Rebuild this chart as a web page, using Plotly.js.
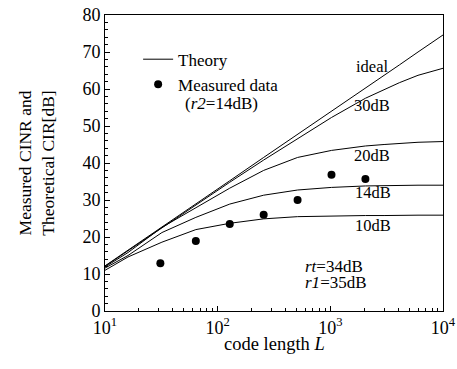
<!DOCTYPE html>
<html>
<head>
<meta charset="utf-8">
<script src="https://cdn.plot.ly/plotly-3.0.1.min.js"></script>
<style>html,body{margin:0;padding:0;background:#fff;}#chart{width:457px;height:369px;}</style>
</head>
<body>
<div id="chart"></div>
<script>
// code length L for theory curves
var codeLength = [10, 16, 32, 64, 128, 256, 512, 1024, 2048, 3000, 4096, 6000, 10000];
var ideal = [12.2, 16.4, 22.7, 29.0, 35.2, 41.5, 47.7, 54.0, 60.3, 63.7, 66.5, 70.0, 74.6];
var r30dB = [12.1, 16.3, 22.6, 28.8, 34.8, 40.8, 46.5, 52.3, 57.5, 59.9, 61.7, 63.7, 65.6];
var r20dB = [11.9, 15.8, 22.6, 28.0, 33.2, 38.0, 41.5, 43.4, 44.6, 45.0, 45.3, 45.6, 45.8];
var r14dB = [11.6, 15.0, 21.2, 25.3, 28.9, 31.3, 32.7, 33.4, 33.8, 33.9, 33.9, 34.0, 34.0];
var r10dB = [11.0, 14.6, 18.6, 22.0, 23.7, 24.9, 25.5, 25.7, 25.8, 25.8, 25.9, 25.9, 25.9];
// measured data
var measL = [31, 64, 128, 256, 512, 1024, 2048];
var measCINR = [12.9, 18.9, 23.5, 26.0, 30.0, 36.8, 35.7];
// tick labels
var xTickVals = [10, 100, 1000, 10000];
var xTickText = ['10<sup>1</sup>', '10<sup>2</sup>', '10<sup>3</sup>', '10<sup>4</sup>'];
var curveLabels = ['ideal', '30dB', '20dB', '14dB', '10dB'];

var serif = 'Liberation Serif, Times New Roman, serif';
var lineStyle = {color: '#000', width: 1};
var curves = [ideal, r30dB, r20dB, r14dB, r10dB];
var traces = curves.map(function (ys, i) {
  return {
    x: codeLength, y: ys, mode: 'lines', line: lineStyle,
    name: 'Theory', showlegend: i === 0, hoverinfo: 'skip'
  };
});
traces.push({
  x: measL, y: measCINR, mode: 'markers',
  marker: {color: '#000', size: 8, symbol: 'circle'},
  name: 'Measured data'
});

var labelPos = [[2350, 66.0], [2350, 55.5], [2350, 41.9], [2400, 32.0], [2400, 23.2]];
var annotations = curveLabels.map(function (t, i) {
  return {x: Math.log10(labelPos[i][0]), y: labelPos[i][1], xref: 'x', yref: 'y',
    text: t, showarrow: false, font: {family: serif, size: 16.5, color: '#000'}};
});
annotations.push({x: 0.585, y: 0.113, xref: 'paper', yref: 'paper', xanchor: 'left',
  text: '<i>rt</i>=34dB', showarrow: false, font: {family: serif, size: 17, color: '#000'}});
annotations.push({x: 0.585, y: 0.057, xref: 'paper', yref: 'paper', xanchor: 'left',
  text: '<i>r1</i>=35dB', showarrow: false, font: {family: serif, size: 17, color: '#000'}});
// second line of the legend entry for measured data
annotations.push({x: 0.232, y: 0.702, xref: 'paper', yref: 'paper', xanchor: 'left', yanchor: 'middle',
  text: '(<i>r2</i>=14dB)', showarrow: false, font: {family: serif, size: 17, color: '#000'}});
// x-axis title
annotations.push({x: 0.5, y: -0.11, xref: 'paper', yref: 'paper', xanchor: 'center', yanchor: 'middle',
  text: 'code length <i>L</i>', showarrow: false, font: {family: serif, size: 18.5, color: '#000'}});

var layout = {
  width: 457, height: 369,
  margin: {l: 105, r: 14, t: 15, b: 58},
  paper_bgcolor: '#fff', plot_bgcolor: '#fff',
  font: {family: serif, size: 17, color: '#000'},
  showlegend: true,
  legend: {x: 0.098, y: 0.91, xanchor: 'left', yanchor: 'top', bgcolor: 'rgba(0,0,0,0)',
    font: {family: serif, size: 17, color: '#000'}, itemwidth: 30, tracegroupgap: 0},
  xaxis: {
    type: 'log', range: [1, 4], showgrid: false, zeroline: false,
    showline: true, linecolor: '#000', linewidth: 1, mirror: true,
    ticks: 'inside', ticklen: 5, tickcolor: '#000',
    tickvals: xTickVals, ticktext: xTickText,
    tickfont: {family: serif, size: 18, color: '#000'},
    minor: {ticks: 'inside', ticklen: 3, tickcolor: '#000', dtick: 'D1', showgrid: false}
  },
  yaxis: {
    range: [0, 80], dtick: 10, showgrid: false, zeroline: false,
    showline: true, linecolor: '#000', linewidth: 1, mirror: true,
    ticks: 'inside', ticklen: 5, tickcolor: '#000',
    tickfont: {family: serif, size: 18, color: '#000'},
    minor: {ticks: 'inside', ticklen: 3, tickcolor: '#000', dtick: 2, showgrid: false},
    title: {text: 'Measured CINR and<br>Theoretical CIR[dB]', font: {family: serif, size: 17.5, color: '#000'}, standoff: 23}
  },
  annotations: annotations
};
Plotly.newPlot('chart', traces, layout, {staticPlot: true, displayModeBar: false});
</script>
</body>
</html>
